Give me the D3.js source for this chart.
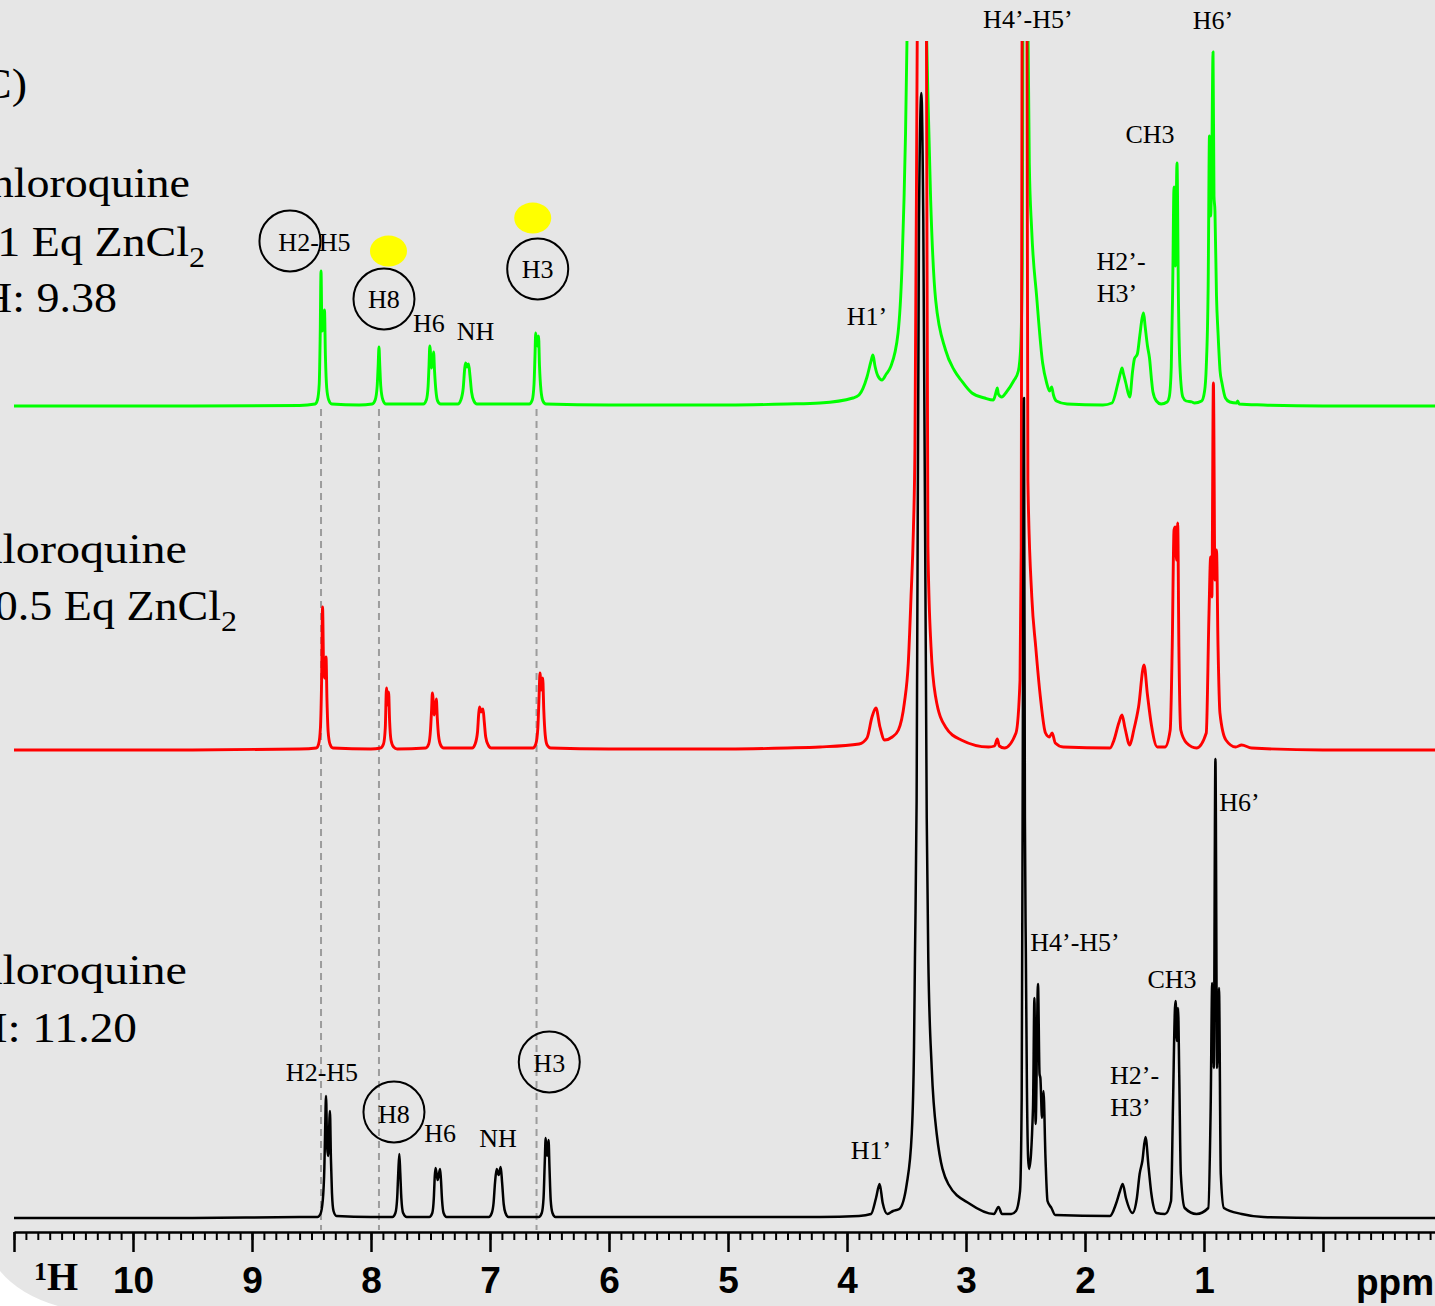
<!DOCTYPE html>
<html><head><meta charset="utf-8">
<script src="https://cdn.jsdelivr.net/npm/d3@7"></script>
<style>html,body{margin:0;padding:0;background:#fff;}svg{display:block;}</style>
</head><body>
<script>
// ---------------- DATA (ppm, intensity) ----------------
const greenSpectrum = [
[11.0,0],[9.5,0],[8.6,0.5],
[8.47,2],[8.45,6],[8.435,22],[8.427,70],[8.420,135],[8.412,75],[8.403,78],[8.391,96],[8.383,50],[8.372,18],[8.355,6],[8.33,2],
[8.1,1],
[7.99,2],[7.965,6],[7.948,20],[7.940,40],[7.933,59],[7.926,40],[7.918,20],[7.90,6],[7.875,2],
[7.56,2],[7.535,6],[7.520,20],[7.512,42],[7.506,60],[7.490,38],[7.474,54],[7.466,35],[7.455,16],[7.44,5],[7.415,2],
[7.27,2],[7.245,6],[7.225,18],[7.212,38],[7.205,43],[7.193,39],[7.180,42],[7.168,30],[7.155,14],[7.135,5],[7.11,2],
[6.67,2],[6.645,6],[6.630,22],[6.622,50],[6.616,73],[6.603,60],[6.592,70],[6.584,40],[6.572,16],[6.555,5],[6.53,2],
[6.0,1],[5.0,1],[4.5,2],[4.227,3],[3.95,8],[3.899,11],[3.832,29],[3.800,44],[3.782,51],[3.765,40],[3.740,30],[3.706,26],[3.670,32],[3.634,39],
[3.571,73],[3.538,139],[3.521,206],[3.508,273],[3.496,365],[3.412,1400],[3.330,365],[3.319,306],[3.297,206],[3.255,106],[3.172,56],[3.100,36],[3.042,26],
[2.95,13],[2.843,8],[2.77,6],[2.745,15],[2.737,18],[2.728,12],[2.70,9],[2.66,14],[2.60,25],[2.56,35],[2.540,60],[2.527,143],[2.522,365],[2.500,1400],
[2.478,365],[2.468,243],[2.448,176],[2.406,109],[2.356,43],[2.322,23],[2.298,15],[2.280,19],[2.265,11],[2.24,5],[2.15,2],[1.85,1],
[1.773,3],[1.723,23],[1.700,34],[1.689,38],[1.678,33],[1.657,23],[1.624,9],[1.600,35],[1.585,47],[1.560,52],[1.540,70],[1.520,88],[1.508,93],
[1.495,80],[1.475,60],[1.458,48],[1.440,25],[1.429,14],[1.40,5],[1.361,2],
[1.31,4],[1.292,9],[1.275,39],[1.263,120],[1.252,219],[1.240,140],[1.227,243],[1.214,100],[1.202,39],[1.178,9],[1.15,5],[1.10,4],[1.080,3],
[1.02,5],[0.995,15],[0.981,39],[0.965,120],[0.954,270],[0.944,190],[0.935,240],[0.924,354],[0.916,210],[0.908,195],[0.895,110],[0.882,73],
[0.865,35],[0.849,23],[0.82,8],[0.783,4],[0.725,3],[0.717,5],[0.705,2],[0.5,1],[0,0],[-1.0,0]
];

const redSpectrum = [
[11.0,0],[9.5,0],[8.6,1],
[8.46,2],[8.44,6],[8.425,22],[8.415,70],[8.407,143],[8.398,80],[8.391,72],[8.378,93],[8.370,50],[8.360,18],[8.345,6],[8.32,2],
[8.0,1],
[7.92,2],[7.895,6],[7.880,22],[7.870,62],[7.862,45],[7.852,58],[7.844,30],[7.832,10],[7.81,3],[7.78,1],
[7.54,2],[7.515,6],[7.500,20],[7.491,40],[7.484,57],[7.468,35],[7.451,51],[7.443,32],[7.432,14],[7.415,5],[7.39,2],
[7.15,2],[7.125,6],[7.105,18],[7.095,36],[7.088,43],[7.074,38],[7.059,41],[7.048,28],[7.036,13],[7.015,5],[6.99,2],
[6.64,2],[6.615,6],[6.598,22],[6.588,52],[6.580,77],[6.569,60],[6.557,72],[6.548,40],[6.536,15],[6.520,5],[6.49,2],
[6.0,1],[5.0,1],[4.5,2],[4.227,3],[3.898,6],[3.832,12],[3.790,33],[3.757,42],[3.723,23],[3.684,10],[3.620,13],[3.568,20],[3.518,47],[3.485,87],
[3.462,153],[3.442,220],[3.429,303],[3.410,709],[3.372,1500],[3.332,709],[3.320,203],[3.294,103],[3.255,53],[3.172,23],[3.040,10],[2.810,3],
[2.760,4],[2.737,11],[2.720,4],[2.678,2],[2.580,17],[2.546,70],[2.536,203],[2.529,709],[2.508,1500],[2.487,709],[2.480,270],[2.447,153],
[2.414,103],[2.375,53],[2.332,17],[2.300,13],[2.276,17],[2.250,7],[2.183,3],[1.79,2],
[1.756,10],[1.716,27],[1.689,35],[1.664,22],[1.624,5],[1.590,20],[1.550,43],[1.504,85],[1.475,55],[1.442,25],[1.392,3],[1.328,3],
[1.284,20],[1.267,103],[1.252,220],[1.241,223],[1.231,190],[1.221,227],[1.211,103],[1.195,20],[1.146,7],[1.063,2],
[0.981,17],[0.958,137],[0.944,193],[0.934,153],[0.921,367],[0.908,170],[0.895,200],[0.882,103],[0.866,37],[0.816,10],[0.734,3],
[0.684,5],[0.60,2],[0,0],[-1.0,0]
];

const blackSpectrum = [
[11.0,0],[9.5,0],[8.6,1],
[8.45,1],[8.425,4],[8.405,18],[8.392,50],[8.385,90],[8.378,122],[8.368,70],[8.360,62],[8.345,107],[8.337,60],[8.328,25],[8.315,7],[8.29,2],
[8.0,1],
[7.82,1],[7.795,5],[7.780,20],[7.771,45],[7.762,64],[7.754,45],[7.745,20],[7.730,5],[7.70,1],
[7.51,1],[7.485,5],[7.472,20],[7.464,42],[7.457,50],[7.440,38],[7.420,49],[7.413,40],[7.403,18],[7.390,5],[7.365,1],
[7.01,1],[6.985,5],[6.970,15],[6.958,35],[6.944,49],[6.927,43],[6.910,51],[6.898,35],[6.885,14],[6.870,5],[6.845,1],
[6.59,1],[6.565,5],[6.550,20],[6.540,55],[6.532,80],[6.520,62],[6.508,78],[6.500,50],[6.490,18],[6.475,5],[6.45,1],
[6.0,1],[5.0,1],[4.227,1],[3.899,2],[3.798,4],[3.756,20],[3.726,34],[3.700,15],[3.660,4],[3.613,7],[3.560,9],[3.498,34],[3.456,84],
[3.437,170],[3.429,260],[3.415,417],[3.395,1000],[3.375,1125],[3.359,1000],[3.330,400],[3.317,260],[3.288,150],[3.246,84],[3.149,34],
[2.966,14],[2.765,4],[2.727,11],[2.697,4],[2.62,4],[2.580,7],[2.546,27],[2.532,120],[2.522,500],[2.513,820],[2.505,400],[2.497,264],
[2.488,130],[2.478,60],[2.470,49],[2.437,110],[2.425,220],[2.415,94],[2.395,234],[2.382,144],[2.375,140],[2.361,100],[2.349,127],
[2.332,60],[2.315,17],[2.282,10],[2.250,3],[1.79,2],
[1.740,14],[1.706,27],[1.683,34],[1.656,20],[1.601,5],[1.564,20],[1.541,44],[1.518,57],[1.492,81],[1.465,50],[1.442,24],[1.399,5],[1.328,4],
[1.277,17],[1.261,110],[1.244,210],[1.238,217],[1.228,177],[1.218,210],[1.208,143],[1.195,44],[1.162,10],[1.063,4],
[0.964,10],[0.944,110],[0.931,235],[0.918,150],[0.904,459],[0.890,150],[0.874,230],[0.859,44],[0.833,10],[0.684,4],[0.5,1],[0,0],[-1.0,0]
];

const tickLabels = [10, 9, 8, 7, 6, 5, 4, 3, 2, 1];
const majorTickValues = [11, 10, 9, 8, 7, 6, 5, 4, 3, 2, 1, 0, -1];
const guidePpm = [8.42, 7.933, 6.609];

const greenLabels = [
  {text:"H2-H5", ppm:8.475, level:155},
  {text:"H8", ppm:7.891, level:98},
  {text:"H6", ppm:7.513, level:74},
  {text:"NH", ppm:7.122, level:66},
  {text:"H3", ppm:6.599, level:128},
  {text:"H1’", ppm:3.832, level:81},
  {text:"H4’-H5’", ppm:2.480, level:378},
  {text:"CH3", ppm:1.454, level:263},
  {text:"H2’-", ppm:1.697, level:136},
  {text:"H3’", ppm:1.731, level:104},
  {text:"H6’", ppm:0.924, level:377}
];
const blackLabels = [
  {text:"H2-H5", ppm:8.412, level:137},
  {text:"H8", ppm:7.807, level:95},
  {text:"H6", ppm:7.420, level:76},
  {text:"NH", ppm:6.933, level:71},
  {text:"H3", ppm:6.502, level:146},
  {text:"H1’", ppm:3.798, level:59},
  {text:"H4’-H5’", ppm:2.084, level:267},
  {text:"CH3", ppm:1.269, level:230},
  {text:"H2’-", ppm:1.584, level:134},
  {text:"H3’", ppm:1.618, level:102},
  {text:"H6’", ppm:0.702, level:407}
];
const greenCircles = [{ppm:8.681, level:165}, {ppm:7.891, level:107}, {ppm:6.599, level:137}];
const blackCircles = [{ppm:7.807, level:106}, {ppm:6.502, level:156}];
const greenMarkers = [{ppm:7.853, level:155}, {ppm:6.641, level:188}];

// ---------------- LAYOUT ----------------
const W = 1435, H = 1306;
const serif = "'Liberation Serif','Times New Roman',Times,serif";
const sans = "'Liberation Sans',Arial,Helvetica,sans-serif";
const svg = d3.select("body").append("svg").attr("width", W).attr("height", H);

svg.append("rect").attr("width", W).attr("height", H).attr("fill", "#e6e6e6");
svg.append("path").attr("d", "M0,1271 Q20,1295 58,1306 L0,1306 Z").attr("fill", "#ffffff");

const x = d3.scaleLinear().domain([11, -1]).range([14, 1442]);
const axisY = 1232;

const traces = [
  {data: greenSpectrum, color: "#00ff00", base: 406, width: 2.9},
  {data: redSpectrum, color: "#ff0000", base: 750, width: 2.9},
  {data: blackSpectrum, color: "#000000", base: 1218, width: 2.5}
];
traces.forEach(t => { t.y = d3.scaleLinear().domain([0, 100]).range([t.base, t.base - 100]); });

svg.append("defs").append("clipPath").attr("id", "plotclip")
  .append("rect").attr("x", 0).attr("y", 41).attr("width", W).attr("height", H - 41);

// guide dashed lines
svg.append("g").selectAll("line").data(guidePpm).join("line")
  .attr("x1", d => x(d)).attr("x2", d => x(d))
  .attr("y1", 409).attr("y2", axisY - 2)
  .attr("stroke", "#9c9c9c").attr("stroke-width", 2).attr("stroke-dasharray", "7,5");

// spectra
const plot = svg.append("g").attr("clip-path", "url(#plotclip)");
traces.forEach(t => {
  const line = d3.line().x(d => x(d[0])).y(d => t.y(d[1])).curve(d3.curveMonotoneX);
  const pts = t.data.slice().sort((a, b) => b[0] - a[0]);
  plot.append("path").attr("d", line(pts)).attr("fill", "none")
    .attr("stroke", t.color).attr("stroke-width", t.width).attr("stroke-linejoin", "round");
});

// axis
const minorTicks = d3.range(-10, 111).map(i => i / 10);
const gMinor = svg.append("g").attr("transform", `translate(0,${axisY})`)
  .call(d3.axisBottom(x).tickValues(minorTicks).tickSize(8).tickSizeOuter(0).tickFormat(""));
gMinor.select(".domain").attr("stroke", "#000").attr("stroke-width", 2.5);
gMinor.selectAll(".tick line").attr("stroke", "#000").attr("stroke-width", 2);

const gMajor = svg.append("g").attr("transform", `translate(0,${axisY})`)
  .call(d3.axisBottom(x).tickValues(majorTickValues).tickSize(20).tickSizeOuter(0).tickPadding(15)
    .tickFormat(d => tickLabels.includes(d) ? String(d) : ""));
gMajor.select(".domain").remove();
gMajor.selectAll(".tick line").attr("stroke", "#000").attr("stroke-width", 2.5);
gMajor.selectAll(".tick text").attr("font-family", sans).attr("font-weight", "bold")
  .attr("font-size", 37).attr("fill", "#000");

svg.append("text").attr("x", 1356).attr("y", 1295).attr("font-family", sans)
  .attr("font-weight", "bold").attr("font-size", 37).text("ppm");
svg.append("text").attr("x", 34).attr("y", 1280).attr("font-family", serif)
  .attr("font-weight", "bold").attr("font-size", 26).text("1");
svg.append("text").attr("x", 47).attr("y", 1290).attr("font-family", serif)
  .attr("font-weight", "bold").attr("font-size", 40).text("H");

// series labels (large serif, slightly wide)
function bigText(xEnd, yBase, main, sub, sx) {
  const t = svg.append("text").attr("transform", `translate(${xEnd},${yBase}) scale(${sx || 1.07},1)`)
    .attr("text-anchor", "end").attr("font-family", serif).attr("font-size", 43).attr("fill", "#000");
  t.append("tspan").text(main);
  if (sub) t.append("tspan").attr("font-size", 30).attr("dy", 11).text(sub);
}
bigText(27, 98, "(C)");
bigText(190, 197, "Chloroquine");
bigText(205, 256, "+ 1 Eq ZnCl", "2");
bigText(117, 312, "pH: 9.38");
bigText(187, 563, "Chloroquine", null, 1.12);
bigText(237, 620, "+ 0.5 Eq ZnCl", "2");
bigText(187, 984, "Chloroquine", null, 1.12);
bigText(137, 1042, "pH: 11.20", null, 1.1);

// peak labels, circles and markers
const gT = traces[0], bT = traces[2];
function labels(list, tr) {
  svg.append("g").selectAll("text").data(list).join("text")
    .attr("x", d => x(d.ppm)).attr("y", d => tr.y(d.level))
    .attr("text-anchor", "middle").attr("font-family", serif).attr("font-size", 26)
    .attr("fill", "#000").text(d => d.text);
}
labels(greenLabels, gT);
labels(blackLabels, bT);

function circles(list, tr) {
  svg.append("g").selectAll("circle").data(list).join("circle")
    .attr("cx", d => x(d.ppm)).attr("cy", d => tr.y(d.level)).attr("r", 30.5)
    .attr("fill", "none").attr("stroke", "#000").attr("stroke-width", 2);
}
circles(greenCircles, gT);
circles(blackCircles, bT);

svg.append("g").selectAll("ellipse").data(greenMarkers).join("ellipse")
  .attr("cx", d => x(d.ppm)).attr("cy", d => gT.y(d.level)).attr("rx", 18.5).attr("ry", 15.5)
  .attr("fill", "#ffff00");
</script>
</body></html>
